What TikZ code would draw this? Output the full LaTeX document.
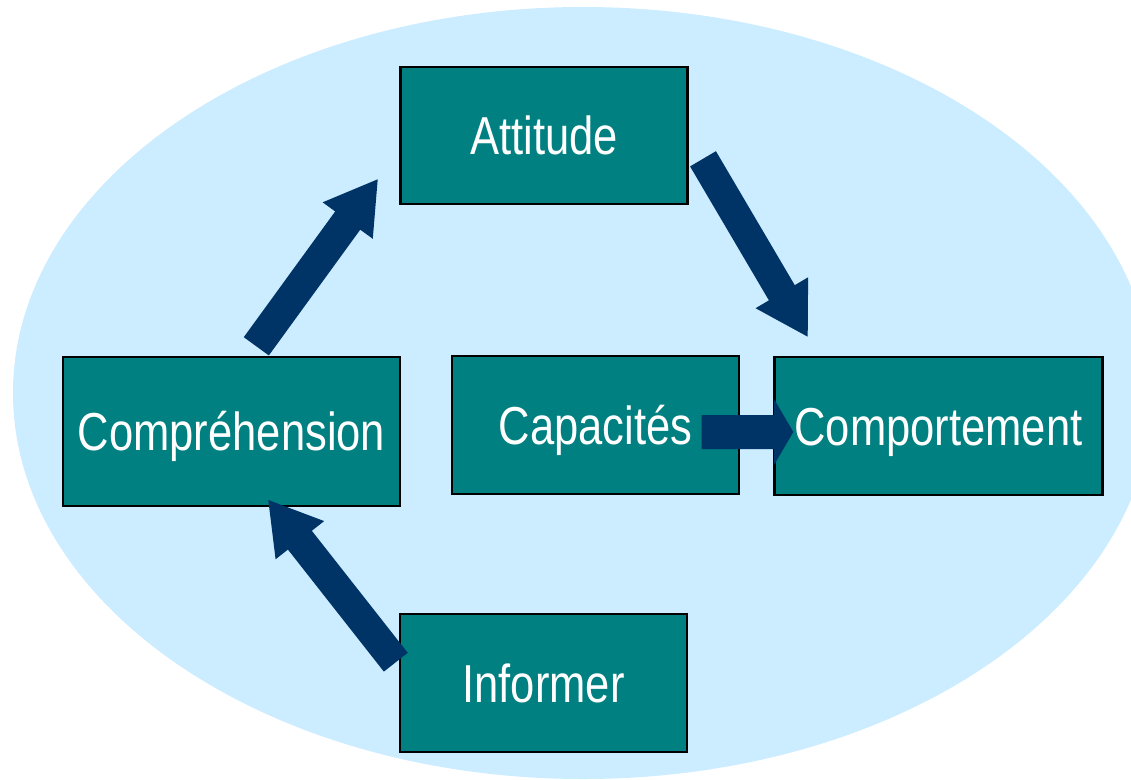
\documentclass[tikz,border=0pt]{standalone}
\usepackage{fontspec}
\setmainfont{Liberation Sans}[FakeStretch=0.815]
\usetikzlibrary{calc}
\definecolor{ovalblue}{HTML}{CCECFF}
\definecolor{boxteal}{HTML}{008080}
\definecolor{arrownavy}{HTML}{003366}
\tikzset{
    node style box/.style={draw=black,line width=0.7pt,fill=boxteal,text=white,inner sep=0pt,%
                           font=\fontsize{15.2}{18}\selectfont,text height=10.9pt,text depth=0pt},
    arrow style block/.style={fill=arrownavy},
}
% block arrow: from, to, half shaft, half head, head length
\newcommand{\blockarrow}[5]{%
  \coordinate (ba-h) at ($(#2)!#5!(#1)$);
  \fill [arrow style block] ($(#1)!#3!90:(#2)$) -- ($(ba-h)!#3!90:(#2)$) -- ($(ba-h)!#4!90:(#2)$)
        -- (#2) -- ($(ba-h)!#4!-90:(#2)$) -- ($(ba-h)!#3!-90:(#2)$) -- ($(#1)!#3!-90:(#2)$) -- cycle;
}

\begin{document}
\begin{tikzpicture}
\clip (0,0) rectangle (11.31,-7.79);
\fill [ovalblue] (5.83,-3.93) ellipse [x radius=5.70cm, y radius=3.86cm];

\node [node style box,minimum width=2.87cm,minimum height=1.37cm] (att) at (5.44,-1.355) {Attitude};
\node [node style box,minimum width=3.37cm,minimum height=1.49cm] (comp) at (2.315,-4.315) {Compréhension};
\node [node style box,minimum width=2.87cm,minimum height=1.38cm] (cap) at (5.955,-4.25) {Capacités};
\node [node style box,minimum width=3.28cm,minimum height=1.38cm] (compt) at (9.385,-4.26) {Comportement};
\node [node style box,minimum width=2.87cm,minimum height=1.38cm] (inf) at (5.435,-6.83) {Informer};

% arrow ends
\coordinate (comp-out) at (2.563,-3.463);
\coordinate (att-in) at (3.777,-1.793);
\coordinate (att-out) at (7.03,-1.588);
\coordinate (compt-in) at (8.077,-3.367);
\coordinate (inf-out) at (3.958,-6.622);
\coordinate (comp-in) at (2.683,-5.00);
\coordinate (cap-out) at (7.017,-4.32);
\coordinate (cap-in) at (7.933,-4.32);

\blockarrow{comp-out}{att-in}{0.155cm}{0.31cm}{0.51cm}
\blockarrow{att-out}{compt-in}{0.15cm}{0.305cm}{0.51cm}
\blockarrow{inf-out}{comp-in}{0.152cm}{0.309cm}{0.511cm}
\blockarrow{cap-out}{cap-in}{0.17cm}{0.33cm}{0.193cm}

\end{tikzpicture}
\end{document}
